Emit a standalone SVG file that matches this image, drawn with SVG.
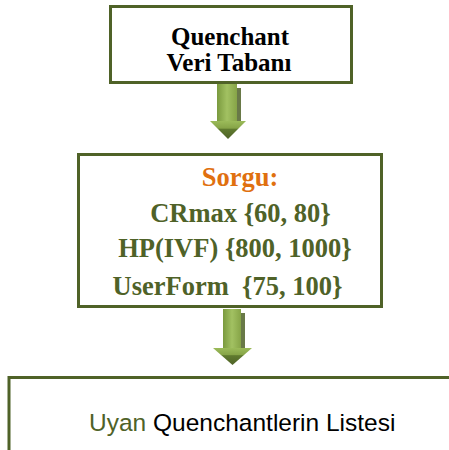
<svg xmlns="http://www.w3.org/2000/svg" width="449" height="450" viewBox="0 0 449 450">
<defs>
<style>
.box{fill:#ffffff;stroke:#4F6228;stroke-width:3}
.title{font-family:"Liberation Serif","Times New Roman",serif;font-weight:bold;font-size:25px;fill:#000000;text-anchor:middle}
.q{font-family:"Liberation Serif","Times New Roman",serif;font-weight:bold;font-size:26.5px;fill:#4F6228;text-anchor:middle}
.sorgu{fill:#E0700F}
.res{font-family:"Liberation Sans",Arial,sans-serif;font-size:24.5px;fill:#000000}
.green{fill:#4F6228}
.shadow{fill:#4F6228;opacity:0.85}
</style>
<linearGradient id="shaft" x1="0" y1="0" x2="1" y2="0">
<stop offset="0" stop-color="#7A9A3E"/>
<stop offset="0.5" stop-color="#A2C162"/>
<stop offset="1" stop-color="#86A447"/>
</linearGradient>
<linearGradient id="head" x1="0" y1="0" x2="0" y2="1">
<stop offset="0" stop-color="#9BBB59"/>
<stop offset="0.4" stop-color="#86A447"/>
<stop offset="0.45" stop-color="#5F7A2E"/>
<stop offset="1" stop-color="#4F6228"/>
</linearGradient>
</defs>
<g id="connectors">
<g id="arrow1">
<rect class="shadow" x="237" y="88" width="4" height="33"/>
<rect x="217" y="84" width="20" height="37" fill="url(#shaft)"/>
<polygon points="210,121 246,121 228,139" fill="url(#head)"/>
</g>
<g id="arrow2">
<rect class="shadow" x="241" y="313" width="4" height="35"/>
<rect x="223" y="309" width="18" height="39" fill="url(#shaft)"/>
<polygon points="213,348 252,348 232.5,365" fill="url(#head)"/>
</g>
</g>
<g id="node-db">
<rect class="box" x="110.5" y="6.5" width="241" height="76"/>
<text class="title" x="230" y="45">Quenchant</text>
<text class="title" x="229" y="71">Veri Tabanı</text>
</g>
<g id="node-query">
<rect class="box" x="78.5" y="154.5" width="303" height="152"/>
<text class="q sorgu" x="240" y="186">Sorgu:</text>
<text class="q" x="240.5" y="222">CRmax {60, 80}</text>
<text class="q" x="235" y="257">HP(IVF) {800, 1000}</text>
<text class="q" x="227.5" y="295" xml:space="preserve">UserForm  {75, 100}</text>
</g>
<g id="node-result">
<rect class="box" x="9" y="377.5" width="460" height="100"/>
<text class="res" x="89" y="431"><tspan class="green">Uyan</tspan> Quenchantlerin Listesi</text>
</g>
</svg>
